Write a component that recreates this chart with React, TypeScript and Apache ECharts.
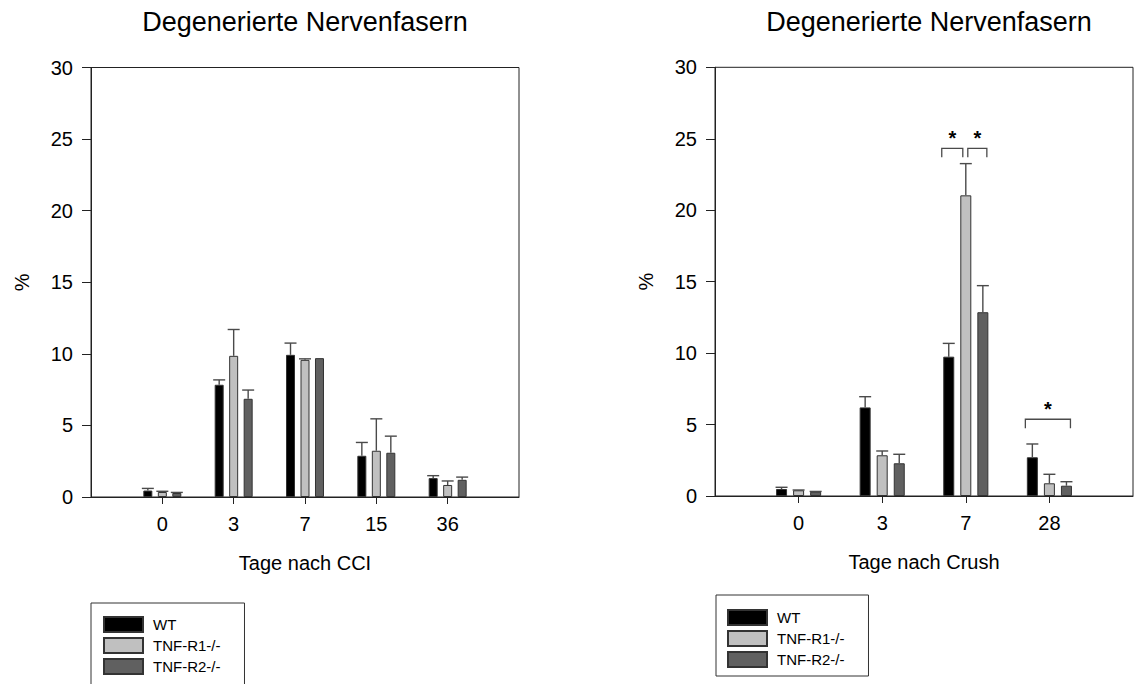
import React, { useEffect, useRef } from "react";
import * as echarts from "echarts";

const FONT = '"Liberation Sans", Arial, Helvetica, sans-serif';

// ---- Data ----
const seriesNames = ["WT", "TNF-R1-/-", "TNF-R2-/-"];

// Left chart: Tage nach CCI
const cciDays = ["0", "3", "7", "15", "36"];
const cciWT = [0.45, 7.84, 9.93, 2.88, 1.32];
const cciWTErr = [0.15, 0.34, 0.82, 0.93, 0.17];
const cciR1 = [0.35, 9.86, 9.58, 3.23, 0.84];
const cciR1Err = [0.05, 1.84, 0.07, 2.23, 0.28];
const cciR2 = [0.28, 6.86, 9.7, 3.09, 1.2];
const cciR2Err = [0.04, 0.61, 0, 1.16, 0.19];

// Right chart: Tage nach Crush
const crushDays = ["0", "3", "7", "28"];
const crushWT = [0.49, 6.2, 9.75, 2.71];
const crushWTErr = [0.12, 0.75, 0.93, 0.93];
const crushR1 = [0.4, 2.85, 21.04, 0.89];
const crushR1Err = [0.02, 0.3, 2.22, 0.63];
const crushR2 = [0.3, 2.29, 12.86, 0.72];
const crushR2Err = [0.02, 0.63, 1.86, 0.28];

// significance brackets (right chart): category, level, from-bar, to-bar
const sigCategory = ["7", "7", "28"];
const sigLevel = [24.33, 24.33, 5.37];
const sigFromBar = [0, 1, 0];
const sigToBar = [1, 2, 2];

const yTicks = { min: 0, max: 30, interval: 5 };

// ---- Styles ----
const FILLS = ["#000000", "#c0c0c0", "#606060"];
const BORDER = "#333333";
const ERR_COLOR = "#4a4a4a";

export default function App() {
  const ref = useRef<HTMLDivElement>(null);

  useEffect(() => {
    if (!ref.current) return;
    const chart = echarts.init(ref.current, undefined, { renderer: "svg" });

    const pad = (arr: number[]) => [null, ...arr, null];
    const leftCats = ["", ...cciDays, ""];
    const rightCats = ["", ...crushDays, ""];

    const leftBarW = 9;
    const leftGap = 0.61;
    const rightBarW = 11;
    const rightGap = 0.55;

    const leftVals = [cciWT, cciR1, cciR2];
    const leftErrs = [cciWTErr, cciR1Err, cciR2Err];
    const rightVals = [crushWT, crushR1, crushR2];
    const rightErrs = [crushWTErr, crushR1Err, crushR2Err];

    const axisText = { fontFamily: FONT, fontSize: 20, color: "#000" };

    const makeXAxis = (cats: string[], gridIndex: number, name: string) => ({
      type: "category",
      gridIndex,
      data: cats,
      boundaryGap: false,
      name,
      nameLocation: "middle",
      nameGap: 56,
      nameTextStyle: axisText,
      axisLine: { show: true, lineStyle: { color: "#222", width: 1 } },
      axisTick: {
        show: true,
        length: 7,
        lineStyle: { color: "#222" },
        interval: (i: number) => i > 0 && i < cats.length - 1,
      },
      axisLabel: { ...axisText, interval: 0, margin: 17 },
      splitLine: { show: false },
    });

    const makeYAxis = (gridIndex: number) => ({
      type: "value",
      gridIndex,
      min: yTicks.min,
      max: yTicks.max,
      interval: yTicks.interval,
      name: "%",
      nameLocation: "middle",
      nameGap: 59,
      nameRotate: 90,
      nameTextStyle: axisText,
      axisLine: { show: true, lineStyle: { color: "#222", width: 1 } },
      axisTick: { show: true, length: 9, lineStyle: { color: "#222" } },
      axisLabel: { ...axisText, margin: 18 },
      splitLine: { show: false },
    });

    const barSeries = (vals: number[][], gridIndex: number, barW: number, gap: number) =>
      vals.map((v, i) => ({
        type: "bar",
        name: seriesNames[i],
        xAxisIndex: gridIndex,
        yAxisIndex: gridIndex,
        data: pad(v),
        barWidth: barW,
        barGap: Math.round(gap * 100) + "%",
        itemStyle: { color: FILLS[i], borderColor: BORDER, borderWidth: 1 },
        z: 2,
      }));

    const errSeries = (vals: number[][], errs: number[][], gridIndex: number, barW: number, gap: number) =>
      vals.map((v, i) => {
        const offset = (i - 1) * barW * (1 + gap);
        return {
          type: "custom",
          name: "err-" + gridIndex + "-" + i,
          xAxisIndex: gridIndex,
          yAxisIndex: gridIndex,
          z: 3,
          silent: true,
          data: v.map((val, k) => [k + 1, val, errs[i][k]]),
          renderItem: (params: any, api: any) => {
            const c = api.value(0);
            const val = api.value(1);
            const e = api.value(2);
            if (!(e > 0)) return { type: "group", children: [] };
            const p0 = api.coord([c, val]);
            const p1 = api.coord([c, val + e]);
            const x = p0[0] + offset;
            const style = { stroke: ERR_COLOR, lineWidth: 1.4 };
            return {
              type: "group",
              children: [
                { type: "line", shape: { x1: x, y1: p0[1], x2: x, y2: p1[1] }, style },
                { type: "line", shape: { x1: x - 6, y1: p1[1], x2: x + 6, y2: p1[1] }, style },
              ],
            };
          },
        };
      });

    const bracketSeries = {
      type: "custom",
      name: "significance",
      xAxisIndex: 1,
      yAxisIndex: 1,
      z: 4,
      silent: true,
      data: sigCategory.map((c, k) => [
        crushDays.indexOf(c) + 1,
        sigLevel[k],
        sigFromBar[k],
        sigToBar[k],
      ]),
      renderItem: (params: any, api: any) => {
        const c = api.value(0);
        const lvl = api.value(1);
        const from = api.value(2);
        const to = api.value(3);
        const p = api.coord([c, lvl]);
        const step = rightBarW * (1 + rightGap);
        const x0 = p[0] + (from - 1) * step - (from === 0 ? 7 : -2);
        const x1 = p[0] + (to - 1) * step + (to === 2 ? 4 : -3);
        const leg = 9;
        return {
          type: "group",
          children: [
            {
              type: "polyline",
              shape: {
                points: [
                  [x0, p[1] + leg],
                  [x0, p[1]],
                  [x1, p[1]],
                  [x1, p[1] + leg],
                ],
              },
              style: { stroke: ERR_COLOR, lineWidth: 1.3, fill: "none" },
            },
            {
              type: "text",
              x: (x0 + x1) / 2,
              y: p[1] - 10,
              style: {
                text: "*",
                fontFamily: FONT,
                fontSize: 20,
                fontWeight: "bold",
                fill: "#000",
                align: "center",
                verticalAlign: "middle",
              },
            },
          ],
        };
      },
    };

    const legendBase = {
      orient: "vertical",
      icon: "rect",
      itemWidth: 39,
      itemHeight: 15,
      itemGap: 4,
      borderColor: "#333",
      borderWidth: 1,
      selectedMode: false,
      data: seriesNames,
      height: 120,
      textStyle: {
        fontFamily: FONT,
        fontSize: 15,
        color: "#000",
        padding: [0, 0, 0, 5],
      },
    };

    const titleStyle = {
      fontFamily: FONT,
      fontSize: 27,
      fill: "#000",
    };

    const option: any = {
      animation: false,
      backgroundColor: "#fff",
      grid: [
        { left: 91, top: 67.5, width: 428, height: 429.5, show: true, borderColor: "#222", borderWidth: 1 },
        { left: 715, top: 67.3, width: 428.5, height: 428.7, show: true, borderColor: "#222", borderWidth: 1 },
      ],
      xAxis: [makeXAxis(leftCats, 0, "Tage nach CCI"), makeXAxis(rightCats, 1, "Tage nach Crush")],
      yAxis: [makeYAxis(0), makeYAxis(1)],
      legend: [
        { ...legendBase, left: 91, top: 603, padding: [13, 24, 24, 12] },
        { ...legendBase, left: 716, top: 595, padding: [14, 24, 8, 11] },
      ],
      graphic: [
        {
          type: "text",
          x: 305,
          y: 22,
          style: { ...titleStyle, text: "Degenerierte Nervenfasern", align: "center", verticalAlign: "middle" },
        },
        {
          type: "text",
          x: 929,
          y: 22,
          style: { ...titleStyle, text: "Degenerierte Nervenfasern", align: "center", verticalAlign: "middle" },
        },
      ],
      series: [
        ...barSeries(leftVals, 0, leftBarW, leftGap),
        ...barSeries(rightVals, 1, rightBarW, rightGap),
        ...errSeries(leftVals, leftErrs, 0, leftBarW, leftGap),
        ...errSeries(rightVals, rightErrs, 1, rightBarW, rightGap),
        bracketSeries,
      ],
    };

    chart.setOption(option);
    return () => chart.dispose();
  }, []);

  return (
    <div
      ref={ref}
      style={{ position: "fixed", left: 0, top: 0, width: 1136, height: 684, background: "#fff" }}
    />
  );
}
